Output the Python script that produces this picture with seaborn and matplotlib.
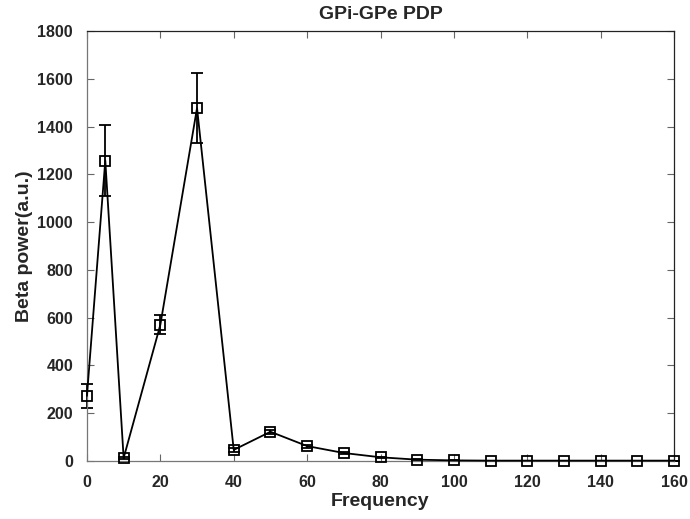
import matplotlib
matplotlib.use("Agg")
import matplotlib.pyplot as plt
import seaborn as sns
import pandas as pd

freq = [0, 5, 10, 20, 30, 40, 50, 60, 70, 80, 90, 100, 110, 120, 130, 140, 150, 160]
power = [272, 1258, 12, 570, 1478, 46, 122, 62, 33, 15, 5, 2, 1, 1, 1, 1, 1, 1]
err = [50, 150, 5, 40, 145, 8, 8, 6, 5, 3, 2, 1, 0.5, 0.5, 0.5, 0.5, 0.5, 0.5]

sns.set_style("ticks")
plt.rcParams['font.family'] = ['Liberation Sans', 'DejaVu Sans']
plt.rcParams['font.weight'] = 'bold'

df = pd.DataFrame({"Frequency": freq, "power": power, "err": err})

fig = plt.figure(figsize=(6.9, 5.19), dpi=100)
ax = fig.add_axes([0.126, 0.112, 0.851, 0.828])

eb = ax.errorbar(df["Frequency"], df["power"], yerr=df["err"], fmt='none',
                 ecolor='black', elinewidth=1.3, capsize=4, capthick=1.3, zorder=2)
sns.lineplot(data=df, x="Frequency", y="power", ax=ax, color='black', lw=1.3,
             marker='s', markersize=7, markerfacecolor='none',
             markeredgecolor='black', markeredgewidth=1.3, zorder=3)
for ln in ax.lines:
    ln.set_clip_on(False)
for c in ax.collections:
    c.set_clip_on(False)

ax.set_xlim(0, 160)
ax.set_ylim(0, 1800)
ax.set_xticks(range(0, 161, 20))
ax.set_yticks(range(0, 1801, 200))
ax.tick_params(direction='in', length=5, width=0.8, color='#666666',
               labelsize=11.5, labelcolor='#262626', top=True, right=True, pad=10)
for lab in ax.get_xticklabels() + ax.get_yticklabels():
    lab.set_fontweight('bold')
for name, s in ax.spines.items():
    s.set_linewidth(0.9)
    s.set_color('#777777' if name in ('left', 'bottom') else '#222222')

ax.set_xlabel("Frequency", fontsize=14, fontweight='bold', labelpad=2, color='#262626')
ax.set_ylabel("Beta power(a.u.)", fontsize=14, fontweight='bold', labelpad=3, color='#262626')
ax.set_title("GPi-GPe PDP", fontsize=14, fontweight='bold', pad=9, color='#262626')

fig.savefig("out.png", dpi=100)
